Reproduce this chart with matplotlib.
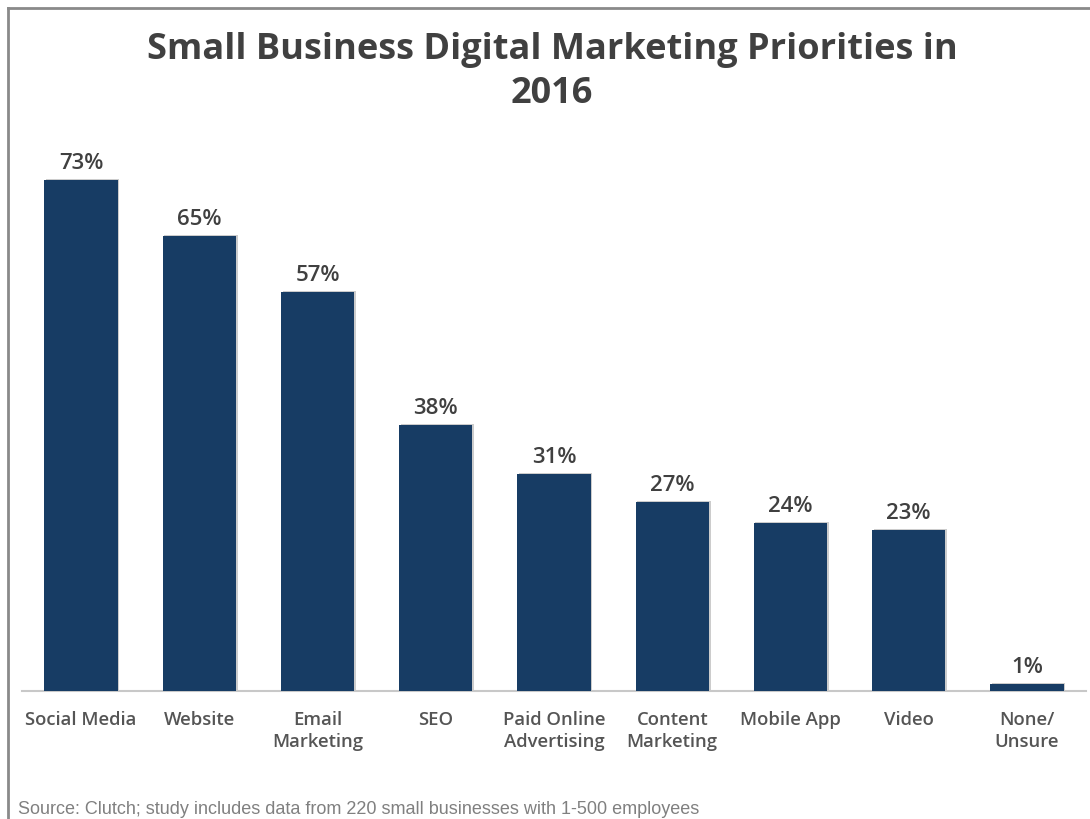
import matplotlib
matplotlib.use('Agg')
import matplotlib.pyplot as plt
from matplotlib.lines import Line2D
import matplotlib.patheffects as pe

plt.rcParams['font.family'] = ['Open Sans', 'DejaVu Sans']

# survey results, share of small businesses (%)
categories = ['Social Media', 'Website', 'Email\nMarketing', 'SEO',
              'Paid Online\nAdvertising', 'Content\nMarketing',
              'Mobile App', 'Video', 'None/\nUnsure']
shares = [73, 65, 57, 38, 31, 27, 24, 23, 1]

bar_color = '#173c64'
title_color = '#404040'
label_color = '#555555'

fig = plt.figure(figsize=(10.9, 8.2), dpi=100)
ax = fig.add_axes([22 / 1090, 1 - 692 / 820, 1064 / 1090, 552 / 820])

x = range(len(categories))
bars = ax.bar(x, shares, width=0.62, color=bar_color, zorder=3)
for b in bars:
    b.set_path_effects([pe.SimplePatchShadow(offset=(1.2, 0.8), shadow_rgbFace='#9a9a9a', alpha=0.5),
                        pe.Normal()])

for i, v in enumerate(shares):
    ax.annotate(f'{v}%', (i, v), xytext=(0, 5), textcoords='offset points',
                ha='center', va='bottom', fontsize=16, fontweight='semibold',
                color=title_color)

ax.set_xlim(-0.5, 8.5)
ax.set_ylim(0, 552 / 7)
ax.set_xticks(list(x))
ax.set_xticklabels(categories, fontsize=13.3, fontweight='semibold', color=label_color,
                   linespacing=1.25)
ax.tick_params(axis='x', length=0, pad=14)
ax.set_yticks([])
for s in ['top', 'right', 'left']:
    ax.spines[s].set_visible(False)
ax.spines['bottom'].set_color('#c8c8c8')
ax.spines['bottom'].set_linewidth(1.5)

fig.text(552 / 1090, 1 - 72 / 820, 'Small Business Digital Marketing Priorities in\n2016',
         ha='center', va='center', fontsize=26, fontweight='bold', color=title_color,
         linespacing=1.3)

fig.text(18 / 1090, 1 - 810 / 820,
         'Source: Clutch; study includes data from 220 small businesses with 1-500 employees',
         ha='left', va='center', fontsize=13, color='#808080', family='Liberation Sans')

# gray frame along the top and left edge
fig.add_artist(Line2D([8 / 1090, 1.0], [1 - 9 / 820, 1 - 9 / 820], color='#8a8a8a', lw=2))
fig.add_artist(Line2D([8 / 1090, 8 / 1090], [0.0, 1 - 9 / 820], color='#8a8a8a', lw=2))

fig.savefig('out.png', dpi=100)
